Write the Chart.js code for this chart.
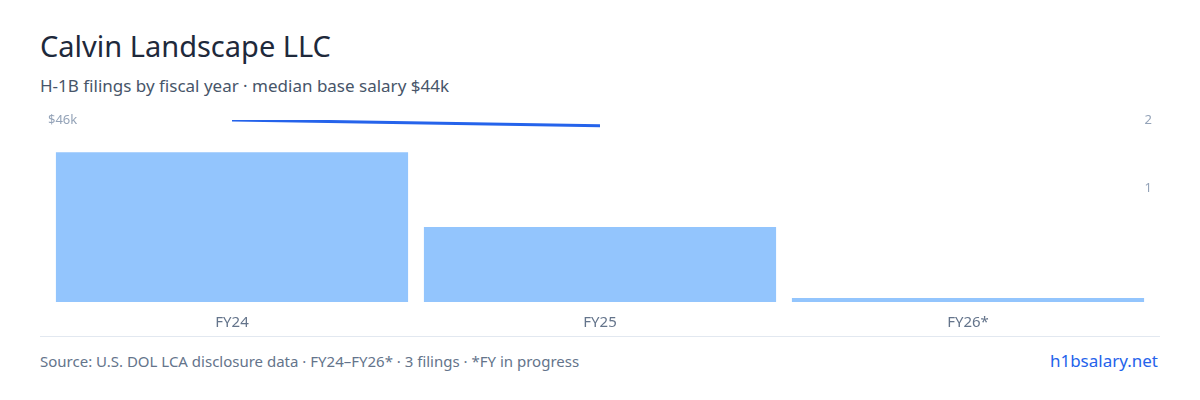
<!DOCTYPE html>
<html><head><meta charset="utf-8">
<script src="https://cdn.jsdelivr.net/npm/chart.js@4"></script>
<style>
body{margin:0;width:1200px;height:400px;background:#fff;font-family:"Noto Sans",sans-serif;position:relative;overflow:hidden}
#t{position:absolute;left:40px;top:26px;font-size:29px;color:#1e293b}
#s{position:absolute;left:40px;top:74px;font-size:17px;color:#475569}
#c{position:absolute;left:40px;top:110px;width:1120px;height:226px}
#d{position:absolute;left:40px;top:336px;width:1120px;border-top:1px solid #e2e8f0}
#f{position:absolute;left:40px;top:351px;font-size:15px;color:#64748b}
#r{position:absolute;right:42px;top:349px;font-size:17px;color:#2563eb}
</style></head><body>
<div id="t">Calvin Landscape LLC</div>
<div id="s">H-1B filings by fiscal year · median base salary $44k</div>
<div id="c"><canvas id="cv"></canvas></div>
<div id="d"></div>
<div id="f">Source: U.S. DOL LCA disclosure data · FY24–FY26* · 3 filings · *FY in progress</div>
<div id="r">h1bsalary.net</div>
<script>
const categories=["FY24","FY25","FY26*"];
const filings=[2,1,0];
const salary=[46000,45500,null];
const countTicks=[1,2];
const salaryTicks=[46000];
new Chart(document.getElementById('cv'),{
data:{labels:categories,datasets:[
{type:'line',data:salary,yAxisID:'ys',borderColor:'#2563eb',borderWidth:3,pointRadius:0,order:0},
{type:'bar',data:filings,yAxisID:'yb',backgroundColor:'#93c5fd',categoryPercentage:1,barPercentage:0.957,minBarLength:4,order:1},
{type:'bar',data:[],yAxisID:'yc',hidden:true}
]},
options:{responsive:true,maintainAspectRatio:false,animation:false,
layout:{padding:{top:10}},
plugins:{legend:{display:false},tooltip:{enabled:false}},
scales:{
x:{grid:{display:false},border:{display:false},ticks:{color:'#64748b',font:{family:'Noto Sans',size:15},padding:4}},
yb:{display:false,min:0,max:2.43},
ys:{position:'left',min:30000,max:46000,grid:{display:false},border:{display:false},
 afterBuildTicks:a=>{a.ticks=salaryTicks.map(v=>({value:v}))},
 ticks:{mirror:true,padding:0,color:'#94a3b8',font:{family:'Noto Sans',size:13},callback:v=>'$'+Math.round(v/1000)+'k'}},
yc:{position:'right',min:-0.65,max:2,grid:{display:false},border:{display:false},
 afterBuildTicks:a=>{a.ticks=countTicks.map(v=>({value:v}))},
 ticks:{mirror:true,padding:0,color:'#94a3b8',font:{family:'Noto Sans',size:13}}}
}}});
</script></body></html>
